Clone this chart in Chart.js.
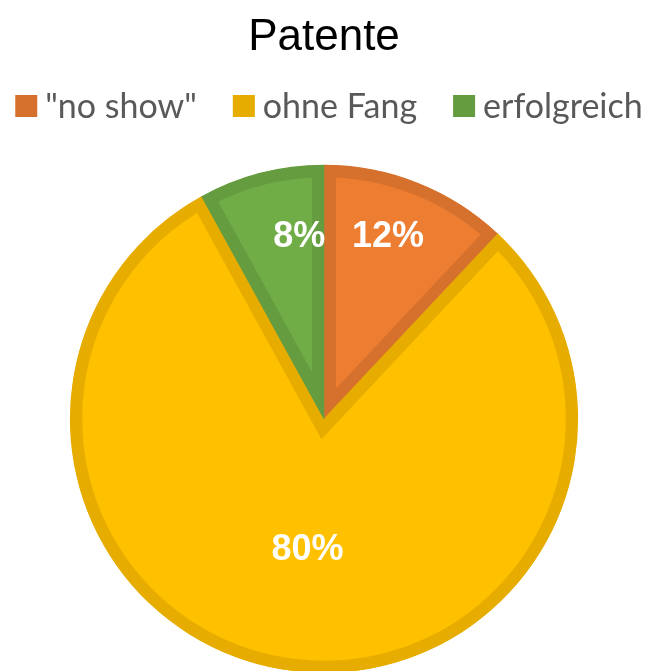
<!DOCTYPE html>
<html>
<head>
<meta charset="utf-8">
<script src="https://cdn.jsdelivr.net/npm/chart.js@4.4.1/dist/chart.umd.min.js"></script>
<style>
  html, body { margin: 0; padding: 0; background: #fff; overflow: hidden; }
  #wrap { width: 651px; height: 673px; position: relative; }
</style>
</head>
<body>
<div id="wrap"><canvas id="chart"></canvas></div>
<script>
const labels = ['"no show"', "ohne Fang", "erfolgreich"];
const values = [12, 80, 8];
const fillColors = ["#ED7D31", "#FFC000", "#70AD47"];
const edgeColors = ["#D6712D", "#E6AD00", "#659C40"];

// where the percent text sits along the radius, and a small sideways nudge
const labelRadius = [0.77, 0.52, 0.74];
const labelNudge = [-8, 0, 22];

const total = values.reduce((a, b) => a + b, 0);

const percentLabels = {
  id: "percentLabels",
  afterDatasetsDraw(chart) {
    const ctx = chart.ctx;
    const meta = chart.getDatasetMeta(0);
    ctx.save();
    ctx.fillStyle = "#fff";
    ctx.font = "bold 36px 'Liberation Sans', Arial, sans-serif";
    ctx.textAlign = "center";
    ctx.textBaseline = "middle";
    meta.data.forEach((arc, i) => {
      const p = arc.getProps(["x", "y", "startAngle", "endAngle", "outerRadius"], true);
      const mid = (p.startAngle + p.endAngle) / 2;
      const r = p.outerRadius * labelRadius[i];
      const x = p.x + Math.cos(mid) * r + labelNudge[i];
      const y = p.y + Math.sin(mid) * r;
      ctx.fillText(Math.round((values[i] / total) * 100) + "%", x, y);
    });
    ctx.restore();
  },
};

// legend row drawn by hand so the gaps match the original
const legendRow = {
  id: "legendRow",
  afterDraw(chart) {
    const ctx = chart.ctx;
    ctx.save();
    ctx.font = "34px Lato, 'Open Sans', sans-serif";
    ctx.textBaseline = "middle";
    const box = 22, gapText = 8, gapItem = 36;
    const widths = labels.map((l) => ctx.measureText(l).width);
    const full = widths.reduce((a, w) => a + box + gapText + w, 0) + gapItem * (labels.length - 1);
    let x = 329 - full / 2;
    const y = 106;
    labels.forEach((l, i) => {
      ctx.fillStyle = edgeColors[i];
      ctx.fillRect(x, y - box / 2, box, box);
      ctx.fillStyle = "#595959";
      ctx.fillText(l, x + box + gapText, y + 1);
      x += box + gapText + widths[i] + gapItem;
    });
    ctx.restore();
  },
};

new Chart(document.getElementById("chart"), {
  type: "pie",
  data: {
    labels: labels,
    datasets: [
      {
        data: values,
        backgroundColor: fillColors,
        borderColor: edgeColors,
        borderWidth: 12,
        borderAlign: "inner",
        borderJoinStyle: "miter",
      },
    ],
  },
  options: {
    responsive: true,
    maintainAspectRatio: false,
    animation: false,
    layout: { padding: { right: 3 } },
    plugins: {
      title: {
        display: true,
        text: "Patente",
        color: "#000",
        font: { family: "'Liberation Sans', Arial, sans-serif", size: 44, weight: "normal" },
        padding: { top: 11, bottom: 101 },
      },
      legend: { display: false },
      tooltip: { enabled: false },
    },
  },
  plugins: [percentLabels, legendRow],
});
</script>
</body>
</html>
